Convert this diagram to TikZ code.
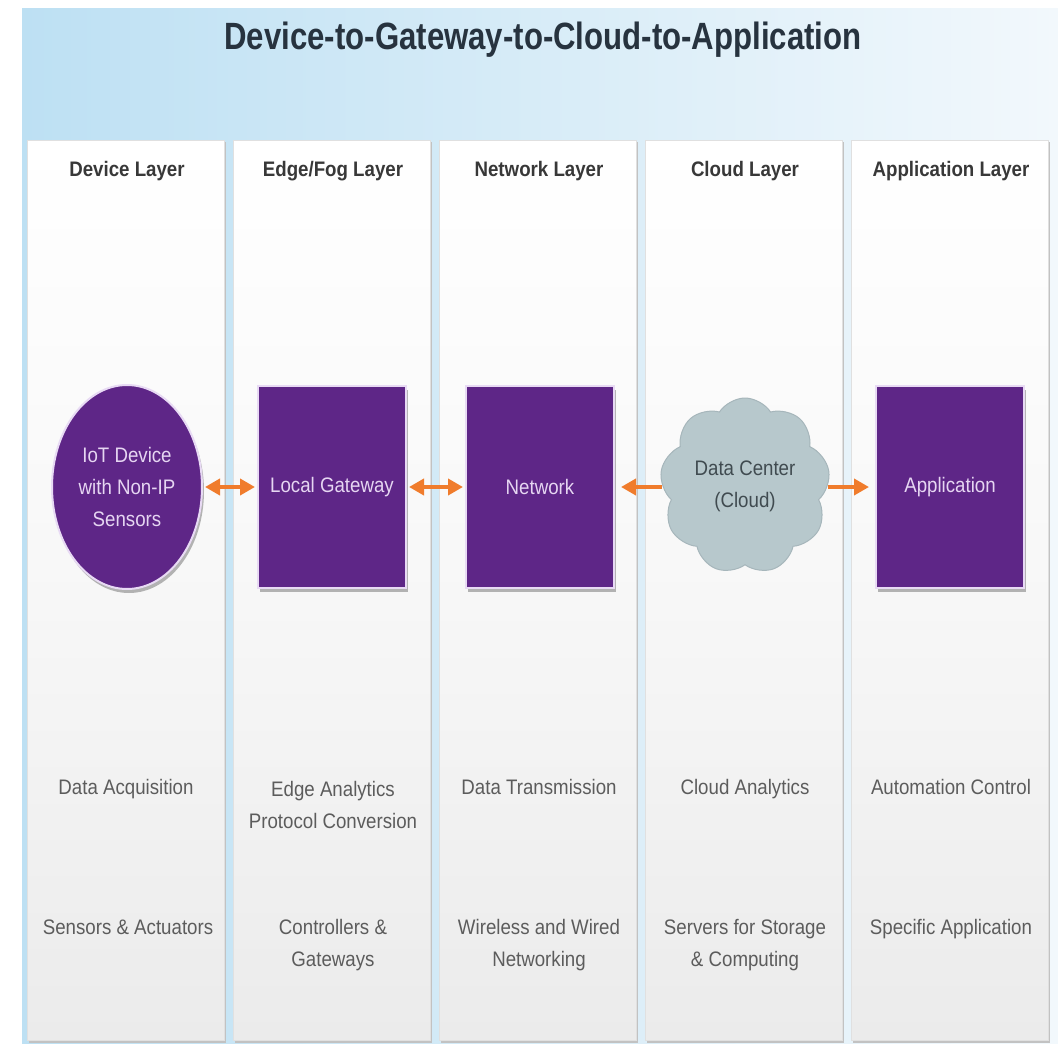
\documentclass[tikz,border=0pt]{standalone}
\usepackage{fontspec}
\setmainfont{Liberation Sans}[FakeStretch=0.89]
\newfontfamily\titlefont{Liberation Sans}[FakeStretch=0.82]
\usetikzlibrary{shapes.geometric,shapes.symbols,arrows.meta,shadows}

\definecolor{bandblue}{HTML}{BDE0F3}
\definecolor{bandpale}{HTML}{F2F8FC}
\definecolor{iotpurple}{HTML}{5E2687}
\definecolor{lavender}{HTML}{E8DAF4}
\definecolor{boxtext}{HTML}{E6D6F2}
\definecolor{flow}{HTML}{F07C2C}
\definecolor{cloudfill}{HTML}{B7C8CC}
\definecolor{cloudedge}{HTML}{A6B6BB}
\definecolor{cloudtext}{HTML}{404B50}
\definecolor{headtext}{HTML}{383838}
\definecolor{bodytext}{HTML}{5C5C5C}
\definecolor{titletext}{HTML}{27333F}
\definecolor{panelbottom}{HTML}{EBEBEB}
\definecolor{paneledge}{HTML}{C2C2C2}

\tikzset{
  layerhead/.style={font=\bfseries\fontsize{21}{26}\selectfont, text=headtext},
  bodylabel/.style={font=\fontsize{21}{32}\selectfont, text=bodytext, align=center},
  oneline/.style={bodylabel, text height=15pt, text depth=5pt},
  unitshadow/.style={drop shadow={shadow xshift=2pt, shadow yshift=-4pt, fill=black, opacity=0.28}},
  purplebox/.style={rectangle, fill=iotpurple, draw=lavender, line width=2pt,
    minimum width=148pt, minimum height=202pt, inner sep=0pt, unitshadow,
    text=boxtext, font=\fontsize{21}{32}\selectfont, align=center},
  deviceoval/.style={ellipse, fill=iotpurple, draw=lavender, line width=2pt,
    minimum width=150pt, minimum height=204pt, inner sep=0pt, unitshadow,
    text=boxtext, font=\fontsize{21}{32}\selectfont, align=center},
  dccloud/.style={cloud, cloud puffs=9, cloud puff arc=115, aspect=1,
    fill=cloudfill, draw=cloudedge, line width=1pt,
    minimum width=170pt, minimum height=176pt, inner sep=0pt,
    text=cloudtext, font=\fontsize{21}{32}\selectfont, align=center},
  twoway/.style={{Triangle[length=15pt,width=16pt]}-{Triangle[length=15pt,width=16pt]},
    draw=flow, line width=4pt, shorten <=2pt, shorten >=2pt},
  oneway/.style={-{Triangle[length=15pt,width=16pt]},
    draw=flow, line width=4pt, shorten <=0pt, shorten >=6pt},
}

\begin{document}
\begin{tikzpicture}[x=1pt,y=-1pt]
\useasboundingbox (0,0) rectangle (1058,1044);
\fill[white] (0,0) rectangle (1058,1044);

% light blue backdrop behind the header and between the layer panels
\shade[left color=bandblue, right color=bandpale] (22,8) rectangle (1058,1044);

% layer panels
\foreach \l in {27,233,439,645,851}{
  \fill[paneledge] (\l+2,142) rectangle (\l+199,1043);
  \shade[top color=white, bottom color=panelbottom, middle color=white!97!black]
    (\l,140) rectangle (\l+197,1040);
  \draw[black!12, line width=0.6pt] (\l,140) rectangle (\l+197,1040);
}

% title
\node[font=\titlefont\bfseries\fontsize{38}{40}\selectfont, text=titletext]
  (title) at (543,40) {Device-to-Gateway-to-Cloud-to-Application};

% layer headings
\node[layerhead] (h1) at (127,171) {Device Layer};
\node[layerhead] (h2) at (333,171) {Edge/Fog Layer};
\node[layerhead] (h3) at (539,171) {Network Layer};
\node[layerhead] (h4) at (745,171) {Cloud Layer};
\node[layerhead] (h5) at (951,171) {Application Layer};

% main units
\node[deviceoval] (dev) at (127,487) {IoT Device\\with Non-IP\\Sensors};
\node[purplebox] (gw) at (332,487) {Local Gateway};
\node[purplebox] (net) at (540,487) {Network};
\node[dccloud] (dc) at (745,486) {Data Center\\(Cloud)};
\node[purplebox] (app) at (950,487) {Application};

% data flow
\draw[twoway] (dev.east) -- (gw.west);
\draw[twoway] (gw.east) -- (net.west);
\draw[oneway] (dc.west |- net.east) -- (net.east);
\draw[oneway] (dc.east |- app.west) -- (app.west);

% functions
\node[oneline] (f1) at (126,789) {Data Acquisition};
\node[bodylabel] (f2) at (333,805) {Edge Analytics\\Protocol Conversion};
\node[oneline] (f3) at (539,789) {Data Transmission};
\node[oneline] (f4) at (745,789) {Cloud Analytics};
\node[oneline] (f5) at (951,789) {Automation Control};

% components
\node[oneline] (c1) at (128,929) {Sensors \& Actuators};
\node[bodylabel] (c2) at (333,945) {Controllers \&\\Gateways};
\node[bodylabel] (c3) at (539,945) {Wireless and Wired\\Networking};
\node[bodylabel] (c4) at (745,945) {Servers for Storage\\\& Computing};
\node[oneline] (c5) at (951,929) {Specific Application};
\end{tikzpicture}
\end{document}
